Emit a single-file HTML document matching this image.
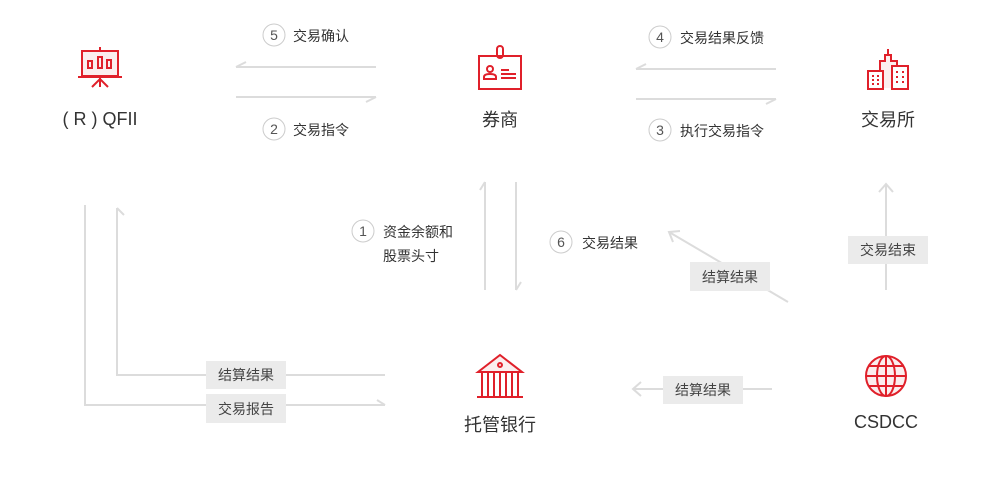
<!DOCTYPE html>
<html><head><meta charset="utf-8"><style>
body{margin:0;background:#fff;width:1000px;height:472px;overflow:hidden;font-family:"Liberation Sans","Noto Sans CJK SC",sans-serif;}
</style></head><body>
<svg width="1000" height="472" viewBox="0 0 1000 472" xmlns="http://www.w3.org/2000/svg" font-family="Liberation Sans, Noto Sans CJK SC, sans-serif">
<g stroke="#dcdcdc" stroke-width="2" fill="none">
<path d="M236 67H376M236 67L246 62"/>
<path d="M236 97H376M376 97L366 102"/>
<path d="M636 69H776M636 69L646 64"/>
<path d="M636 99H776M776 99L766 104"/>
<path d="M485 290V182M485 182L480 190"/>
<path d="M516 182V290M516 290L521 282"/>
<path d="M886 290V184M879 192L886 184L893 192"/>
<path d="M788 302L669 232M673 242L669 232L680 231"/>
<path d="M772 389H633M641 382L633 389L641 396"/>
<path d="M85 205V405H385M377 400L385 405"/>
<path d="M117 208V375H385M117 208L124 215"/>
</g>
<g fill="#ebebeb">
<rect x="848" y="236" width="80" height="28"/>
<rect x="690" y="262" width="80" height="29"/>
<rect x="663" y="376" width="80" height="28"/>
<rect x="206" y="361" width="80" height="28"/>
<rect x="206" y="394" width="80" height="29"/>
</g>
<g font-size="14" fill="#444" text-anchor="middle">
<text x="888" y="255">交易结束</text>
<text x="730" y="282">结算结果</text>
<text x="703" y="395">结算结果</text>
<text x="246" y="380">结算结果</text>
<text x="246" y="414">交易报告</text>
</g>
<g stroke="#ccc" stroke-width="1" fill="#fff">
<circle cx="274" cy="35" r="11"/><circle cx="274" cy="129" r="11"/>
<circle cx="660" cy="37" r="11"/><circle cx="660" cy="130" r="11"/>
<circle cx="363" cy="231" r="11"/><circle cx="561" cy="242" r="11"/>
</g>
<g font-size="14" fill="#555" text-anchor="middle">
<text x="274" y="40">5</text><text x="274" y="134">2</text>
<text x="660" y="42">4</text><text x="660" y="135">3</text>
<text x="363" y="236">1</text><text x="561" y="247">6</text>
</g>
<g font-size="14" fill="#333">
<text x="293" y="41">交易确认</text>
<text x="293" y="135">交易指令</text>
<text x="680" y="43">交易结果反馈</text>
<text x="680" y="136">执行交易指令</text>
<text x="383" y="237">资金余额和</text>
<text x="383" y="261">股票头寸</text>
<text x="582" y="248">交易结果</text>
</g>
<g font-size="18" fill="#333" text-anchor="middle">
<text x="100" y="125">( R ) QFII</text>
<text x="500" y="126">券商</text>
<text x="888" y="126">交易所</text>
<text x="500" y="431">托管银行</text>
<text x="886" y="428">CSDCC</text>
</g>
<g stroke="#e0202a" stroke-width="2" fill="none">
<!-- QFII -->
<rect x="82" y="51" width="36" height="25" fill="#fbeeee"/>
<path d="M78 77H122M100 47V51M100 77V87M92 87L100 79L108 87"/>
<rect x="88" y="61" width="4" height="7"/><rect x="98" y="57" width="4" height="11"/><rect x="107" y="60" width="4" height="8"/>
<!-- broker -->
<rect x="479" y="56" width="42" height="33"/>
<rect x="497" y="46" width="6" height="12" rx="3"/>
<circle cx="490" cy="69" r="3"/><path d="M484 79V77Q484 74 490 74Q496 74 496 77V79Z"/>
<path d="M501 70H509M501 74H516M501 78H516"/>
<!-- exchange -->
<path d="M880 88V61H885V55H891V61H897V88" fill="#fbeeee"/><path d="M888 49V55"/>
<rect x="868" y="71" width="15" height="18" fill="#fff"/><rect x="892" y="66" width="16" height="23" fill="#fff"/>
<path d="M872 76h2M877 76h2M872 80h2M877 80h2M872 84h2M877 84h2M896 72h2M902 72h2M896 77h2M902 77h2M896 82h2M902 82h2"/>
<!-- bank -->
<path d="M478 372L500 355L522 372Z" fill="#fbeeee"/><circle cx="500" cy="365" r="2"/>
<path d="M478 372H522M477 397H523M482 372V397M488 372V397M494 372V397M500 372V397M506 372V397M512 372V397M518 372V397"/>
<!-- globe -->
<circle cx="886" cy="376" r="20" fill="#fbeeee"/>
<ellipse cx="886" cy="376" rx="9" ry="20"/>
<path d="M886 356V396M866 376H906M869 366H903M869 386H903"/>
</g>
</svg>
</body></html>
